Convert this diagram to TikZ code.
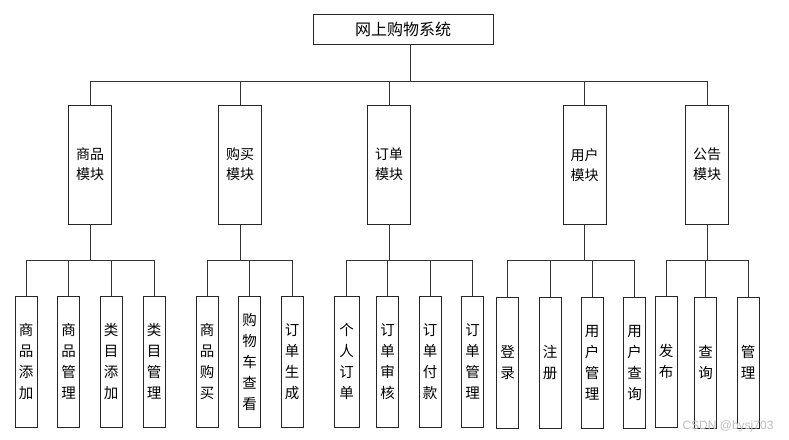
\documentclass[tikz,border=0pt]{standalone}
\usepackage{fontspec}
\setmainfont{Noto Sans CJK SC}
\newfontfamily\wmfont{Liberation Sans}
\begin{document}
\begin{tikzpicture}[x=1pt,y=-1pt,
  box/.style={draw=black!85,line width=0.9pt,inner sep=0pt,align=center},
  topbox/.style={box,minimum width=180pt,minimum height=30pt,font=\fontsize{16}{18}\selectfont},
  modbox/.style={box,minimum width=43pt,minimum height=119pt,font=\fontsize{14}{20}\selectfont},
  leafbox/.style={box,minimum width=22pt,minimum height=131pt,font=\fontsize{14.5}{21}\selectfont},
  wide/.style={minimum width=25pt},
  conn/.style={draw=black!80,line width=0.9pt}]
\useasboundingbox (0,0) rectangle (789,439);
\fill[white] (0,0) rectangle (789,439);

\node[topbox] (top) at (403,29) {网上购物系统};
\coordinate (b1) at (0,81);
\coordinate (b2) at (0,260);

\node[modbox] (m1) at (90,164.5) {商品\\模块};
\node[modbox] (m2) at (240,164.5) {购买\\模块};
\node[modbox] (m3) at (389,164.5) {订单\\模块};
\node[modbox] (m4) at (584.5,165) {用户\\模块};
\node[modbox] (m5) at (707,164.5) {公告\\模块};

\foreach \m in {m1,m2,m3,m4,m5}
  \draw[conn] ([xshift=7pt]top.south) -- ([xshift=7pt]top.south |- b1) -| (\m.north);

% group 1
\node[leafbox] (l11) at (26,361.5) {商\\品\\添\\加};
\node[leafbox] (l12) at (68.5,361.5) {商\\品\\管\\理};
\node[leafbox] (l13) at (111,361.5) {类\\目\\添\\加};
\node[leafbox] (l14) at (154,361.5) {类\\目\\管\\理};
% group 2
\node[leafbox] (l21) at (207,361.5) {商\\品\\购\\买};
\node[leafbox] (l22) at (249.5,361.5) {购\\物\\车\\查\\看};
\node[leafbox] (l23) at (292,361.5) {订\\单\\生\\成};
% group 3
\node[leafbox,wide] (l31) at (346.5,361.5) {个\\人\\订\\单};
\node[leafbox] (l32) at (387.5,361.5) {订\\单\\审\\核};
\node[leafbox] (l33) at (430,361.5) {订\\单\\付\\款};
\node[leafbox] (l34) at (472.5,361.5) {订\\单\\管\\理};
% group 4
\node[leafbox] (l41) at (507.5,362.5) {登\\录};
\node[leafbox] (l42) at (550,362.5) {注\\册};
\node[leafbox] (l43) at (592,362.5) {用\\户\\管\\理};
\node[leafbox] (l44) at (634.5,362.5) {用\\户\\查\\询};
% group 5
\node[leafbox] (l51) at (666,361.5) {发\\布};
\node[leafbox] (l52) at (705.5,362.5) {查\\询};
\node[leafbox] (l53) at (748,362.5) {管\\理};

\foreach \l in {l11,l12,l13,l14}
  \draw[conn] (m1.south) -- (m1.south |- b2) -| (\l.north);
\foreach \l in {l21,l22,l23}
  \draw[conn] (m2.south) -- (m2.south |- b2) -| (\l.north);
\foreach \l in {l31,l32,l33,l34}
  \draw[conn] (m3.south) -- (m3.south |- b2) -| (\l.north);
\foreach \l in {l41,l42,l43,l44}
  \draw[conn] (m4.south) -- (m4.south |- b2) -| (\l.north);
\foreach \l in {l51,l52,l53}
  \draw[conn] (m5.south) -- (m5.south |- b2) -| (\l.north);

\node[text=black!25,font=\wmfont\fontsize{12}{12}\selectfont,inner sep=0pt] (wm) at (728,426) {CSDN @bysj703};
\end{tikzpicture}
\end{document}
